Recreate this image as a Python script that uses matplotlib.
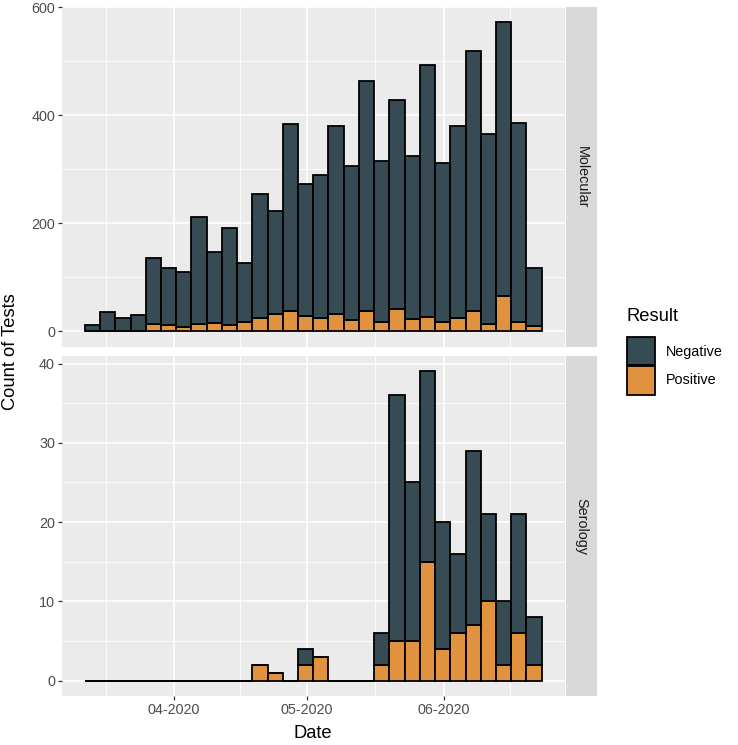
import numpy as np
import pandas as pd
import matplotlib
matplotlib.use("Agg")
import matplotlib.pyplot as plt
import matplotlib.dates as mdates
from matplotlib.patches import Rectangle

# histogram bins (30 bins, ggplot style: centred on the first and last date)
first_day = pd.Timestamp("2020-03-13 12:00")
last_day = pd.Timestamp("2020-06-21 12:00")
n_bins = 30

# Molecular counts per bin
mol_pos = [0, 0, 0, 0, 13, 12, 8, 14, 15, 12, 17, 25, 32, 37, 28, 25,
           32, 20, 38, 18, 41, 23, 27, 17, 25, 38, 14, 66, 18, 9]
mol_total = [12, 35, 24, 31, 136, 118, 110, 212, 147, 192, 127, 254, 223, 383, 272, 290,
             380, 306, 463, 315, 428, 325, 494, 311, 380, 520, 366, 572, 385, 118]

# Serology counts per bin
ser_pos = [0, 0, 0, 0, 0, 0, 0, 0, 0, 0, 0, 2, 1, 0, 2, 3,
           0, 0, 0, 2, 5, 5, 15, 4, 6, 7, 10, 2, 6, 2]
ser_total = [0, 0, 0, 0, 0, 0, 0, 0, 0, 0, 0, 2, 1, 0, 4, 3,
             0, 0, 0, 6, 36, 25, 39, 20, 16, 29, 21, 10, 21, 8]

month_breaks = ["2020-03-01", "2020-04-01", "2020-05-01", "2020-06-01", "2020-07-01"]

col_neg = "#364B53"
col_pos = "#E1923F"
panel_bg = "#EBEBEB"
strip_bg = "#D9D9D9"

plt.rcParams["font.family"] = ["Liberation Sans", "DejaVu Sans"]

start = mdates.date2num(first_day)
stop = mdates.date2num(last_day)
centers = np.linspace(start, stop, n_bins)
bw = (stop - start) / (n_bins - 1)

W, H = 738, 745
fig = plt.figure(figsize=(W / 100, H / 100), dpi=100)

def fx(px):
    return px / W

def fy(py):
    return 1 - py / H

left, right = 62, 564.5
ax1 = fig.add_axes([fx(left), fy(346.7), fx(right - left), fy(7) - fy(346.7)])
ax2 = fig.add_axes([fx(left), fy(696), fx(right - left), fy(356) - fy(696)])

all_months = mdates.date2num(pd.to_datetime(month_breaks))
majors = all_months[1:-1]
minors = (all_months[:-1] + all_months[1:]) / 2

panels = [
    (ax1, mol_pos, mol_total, "Molecular", [0, 200, 400, 600], [100, 300, 500]),
    (ax2, ser_pos, ser_total, "Serology", [0, 10, 20, 30, 40], [5, 15, 25, 35]),
]

xlo = centers[0] - bw / 2
xhi = centers[-1] + bw / 2
xpad = (xhi - xlo) * 0.05

small = 10.4
big = 13.2

for ax, pos, total, name, yt, ymin in panels:
    pos = np.array(pos)
    neg = np.array(total) - pos
    ax.set_facecolor(panel_bg)
    for s in ax.spines.values():
        s.set_visible(False)
    ax.bar(centers, pos, width=bw, color=col_pos, edgecolor="black",
           linewidth=1.3, zorder=3)
    ax.bar(centers, neg, width=bw, bottom=pos, color=col_neg, edgecolor="black",
           linewidth=1.3, zorder=3)
    ax.set_yticks(yt)
    ax.set_yticks(ymin, minor=True)
    ax.set_xticks(majors)
    ax.set_xticks(minors, minor=True)
    top = max(total)
    ax.set_ylim(-top * 0.05, top * 1.05)
    ax.set_xlim(xlo - xpad, xhi + xpad)
    ax.xaxis.set_major_formatter(mdates.DateFormatter("%m-%Y"))
    ax.grid(which="major", color="white", linewidth=1.2, zorder=0)
    ax.grid(which="minor", color="white", linewidth=0.6, zorder=0)
    ax.set_axisbelow(True)
    ax.tick_params(axis="both", which="major", length=2.9, width=0.9,
                   color="#333333", labelcolor="#4D4D4D", labelsize=small, pad=2.2)
    ax.tick_params(axis="both", which="minor", length=0)
    # facet strip on the right
    ax.add_patch(Rectangle((1.003, 0), 0.062, 1, transform=ax.transAxes,
                           facecolor=strip_bg, edgecolor="none", clip_on=False))
    ax.text(1.034, 0.5, name, transform=ax.transAxes, rotation=-90,
            ha="center", va="center", fontsize=small, color="#1A1A1A")

ax1.tick_params(axis="x", which="major", length=0, labelbottom=False)

fig.text(fx(313), fy(733), "Date", ha="center", va="center", fontsize=big)
fig.text(fx(11), fy(351.5), "Count of Tests", rotation=90,
         ha="center", va="center", fontsize=big)

# legend
fig.text(fx(626), fy(316.5), "Result", ha="left", va="center", fontsize=big)
for i, (lab, c) in enumerate([("Negative", col_neg), ("Positive", col_pos)]):
    y0 = 337 + i * 29
    fig.add_artist(Rectangle((fx(626.5), fy(y0 + 28.5)), fx(28.5), fy(y0) - fy(y0 + 28.5),
                             transform=fig.transFigure, facecolor=c,
                             edgecolor="black", linewidth=1.3))
    fig.text(fx(666), fy(y0 + 14.5), lab, ha="left", va="center",
             fontsize=small, color="black")

fig.savefig("out.png", dpi=100)
